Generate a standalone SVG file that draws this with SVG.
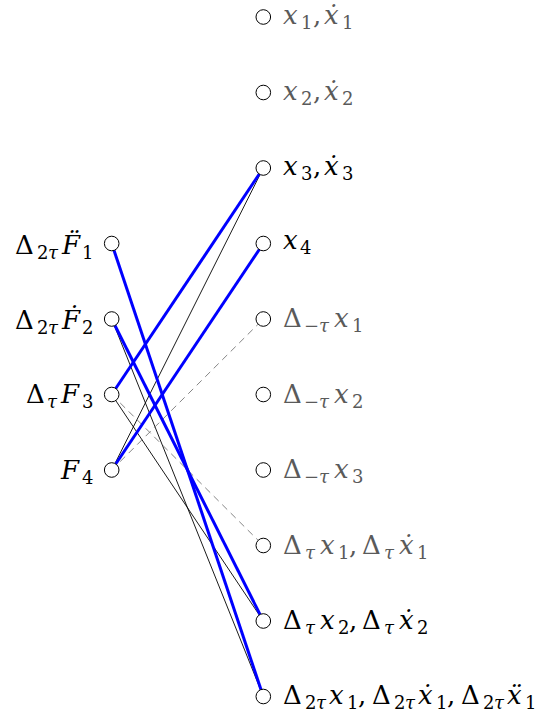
<svg xmlns="http://www.w3.org/2000/svg" width="548" height="715" viewBox="0 0 548 715">
<style>
text{font-family:"DejaVu Serif","Liberation Serif",serif;font-size:26px;fill:#000}
.g{fill:#5a5a5a}
.i{font-style:italic}
.s{font-size:18px}
circle{fill:#fff;stroke:#000;stroke-width:1}
.blue{stroke:#0000ff;stroke-width:3;fill:none}
.thin{stroke:#000;stroke-width:0.9;fill:none}
.dash{stroke:#777;stroke-width:0.9;stroke-dasharray:7,5;fill:none}
</style>
<rect width="548" height="715" fill="#fff"/>
<g id="connectors">
<line class="thin" x1="111.7" y1="319" x2="263.3" y2="696.5"/>
<line class="thin" x1="111.7" y1="394.5" x2="263.3" y2="621"/>
<line class="thin" x1="111.7" y1="470" x2="263.3" y2="168"/>
<line class="dash" x1="111.7" y1="394.5" x2="263.3" y2="545.5"/>
<line class="dash" x1="111.7" y1="470" x2="263.3" y2="319"/>
<line class="blue" x1="111.7" y1="243.5" x2="263.3" y2="696.5"/>
<line class="blue" x1="111.7" y1="319" x2="263.3" y2="621"/>
<line class="blue" x1="111.7" y1="394.5" x2="263.3" y2="168"/>
<line class="blue" x1="111.7" y1="470" x2="263.3" y2="243.5"/>
</g>
<g id="F1"><circle cx="111.7" cy="243.5" r="7.3"/><text y="253.5"><tspan x="15">Δ</tspan><tspan class="s" x="37" dy="5">2</tspan><tspan class="s i" x="48">τ</tspan><tspan class="i" x="62" dy="-5">F̈</tspan><tspan class="s" x="82" dy="5">1</tspan></text></g>
<g id="F2"><circle cx="111.7" cy="319" r="7.3"/><text y="329"><tspan x="15">Δ</tspan><tspan class="s" x="37" dy="5">2</tspan><tspan class="s i" x="48">τ</tspan><tspan class="i" x="62" dy="-5">Ḟ</tspan><tspan class="s" x="82" dy="5">2</tspan></text></g>
<g id="F3"><circle cx="111.7" cy="394.5" r="7.3"/><text y="403"><tspan x="26">Δ</tspan><tspan class="s i" x="47" dy="5">τ</tspan><tspan class="i" x="61" dy="-5">F</tspan><tspan class="s" x="82" dy="5">3</tspan></text></g>
<g id="F4"><circle cx="111.7" cy="470" r="7.3"/><text y="478.5"><tspan class="i" x="61">F</tspan><tspan class="s" x="82" dy="5">4</tspan></text></g>
<g id="R1"><circle cx="263.3" cy="17" r="7.3"/><text class="g" y="24"><tspan class="i" x="283">x</tspan><tspan class="s" x="301" dy="5">1</tspan><tspan x="313" dy="-5">,</tspan><tspan class="i" x="324">ẋ</tspan><tspan class="s" x="342" dy="5">1</tspan></text></g>
<g id="R2"><circle cx="263.3" cy="92.5" r="7.3"/><text class="g" y="99.5"><tspan class="i" x="283">x</tspan><tspan class="s" x="301" dy="5">2</tspan><tspan x="313" dy="-5">,</tspan><tspan class="i" x="324">ẋ</tspan><tspan class="s" x="342" dy="5">2</tspan></text></g>
<g id="R3"><circle cx="263.3" cy="168" r="7.3"/><text y="175"><tspan class="i" x="283">x</tspan><tspan class="s" x="301" dy="5">3</tspan><tspan x="313" dy="-5">,</tspan><tspan class="i" x="324">ẋ</tspan><tspan class="s" x="342" dy="5">3</tspan></text></g>
<g id="R4"><circle cx="263.3" cy="243.5" r="7.3"/><text y="248.5"><tspan class="i" x="283">x</tspan><tspan class="s" x="300" dy="5">4</tspan></text></g>
<g id="R5"><circle cx="263.3" cy="319" r="7.3"/><text class="g" y="327"><tspan x="283">Δ</tspan><tspan class="s" x="304" dy="5">−<tspan class="i">τ</tspan></tspan><tspan class="i" x="334" dy="-5">x</tspan><tspan class="s" x="352" dy="5">1</tspan></text></g>
<g id="R6"><circle cx="263.3" cy="394.5" r="7.3"/><text class="g" y="402.5"><tspan x="283">Δ</tspan><tspan class="s" x="304" dy="5">−<tspan class="i">τ</tspan></tspan><tspan class="i" x="334" dy="-5">x</tspan><tspan class="s" x="352" dy="5">2</tspan></text></g>
<g id="R7"><circle cx="263.3" cy="470" r="7.3"/><text class="g" y="478"><tspan x="283">Δ</tspan><tspan class="s" x="304" dy="5">−<tspan class="i">τ</tspan></tspan><tspan class="i" x="334" dy="-5">x</tspan><tspan class="s" x="352" dy="5">3</tspan></text></g>
<g id="R8"><circle cx="263.3" cy="545.5" r="7.3"/><text class="g" y="553.5"><tspan x="283">Δ</tspan><tspan class="s i" x="305" dy="5">τ</tspan><tspan class="i" x="320" dy="-5">x</tspan><tspan class="s" x="338" dy="5">1</tspan><tspan x="349" dy="-5">,</tspan><tspan x="362">Δ</tspan><tspan class="s i" x="384" dy="5">τ</tspan><tspan class="i" x="399" dy="-5">ẋ</tspan><tspan class="s" x="417" dy="5">1</tspan></text></g>
<g id="R9"><circle cx="263.3" cy="621" r="7.3"/><text y="629"><tspan x="283">Δ</tspan><tspan class="s i" x="305" dy="5">τ</tspan><tspan class="i" x="320" dy="-5">x</tspan><tspan class="s" x="338" dy="5">2</tspan><tspan x="349" dy="-5">,</tspan><tspan x="362">Δ</tspan><tspan class="s i" x="384" dy="5">τ</tspan><tspan class="i" x="399" dy="-5">ẋ</tspan><tspan class="s" x="417" dy="5">2</tspan></text></g>
<g id="R10"><circle cx="263.3" cy="696.5" r="7.3"/><text y="704"><tspan x="283">Δ</tspan><tspan class="s" x="305" dy="5">2</tspan><tspan class="s i" x="316">τ</tspan><tspan class="i" x="329" dy="-5">x</tspan><tspan class="s" x="347" dy="5">1</tspan><tspan x="358" dy="-5">,</tspan><tspan x="372">Δ</tspan><tspan class="s" x="394" dy="5">2</tspan><tspan class="s i" x="405">τ</tspan><tspan class="i" x="418" dy="-5">ẋ</tspan><tspan class="s" x="436" dy="5">1</tspan><tspan x="447" dy="-5">,</tspan><tspan x="461">Δ</tspan><tspan class="s" x="483" dy="5">2</tspan><tspan class="s i" x="494">τ</tspan><tspan class="i" x="507" dy="-5">ẍ</tspan><tspan class="s" x="525" dy="5">1</tspan></text></g>
</svg>
